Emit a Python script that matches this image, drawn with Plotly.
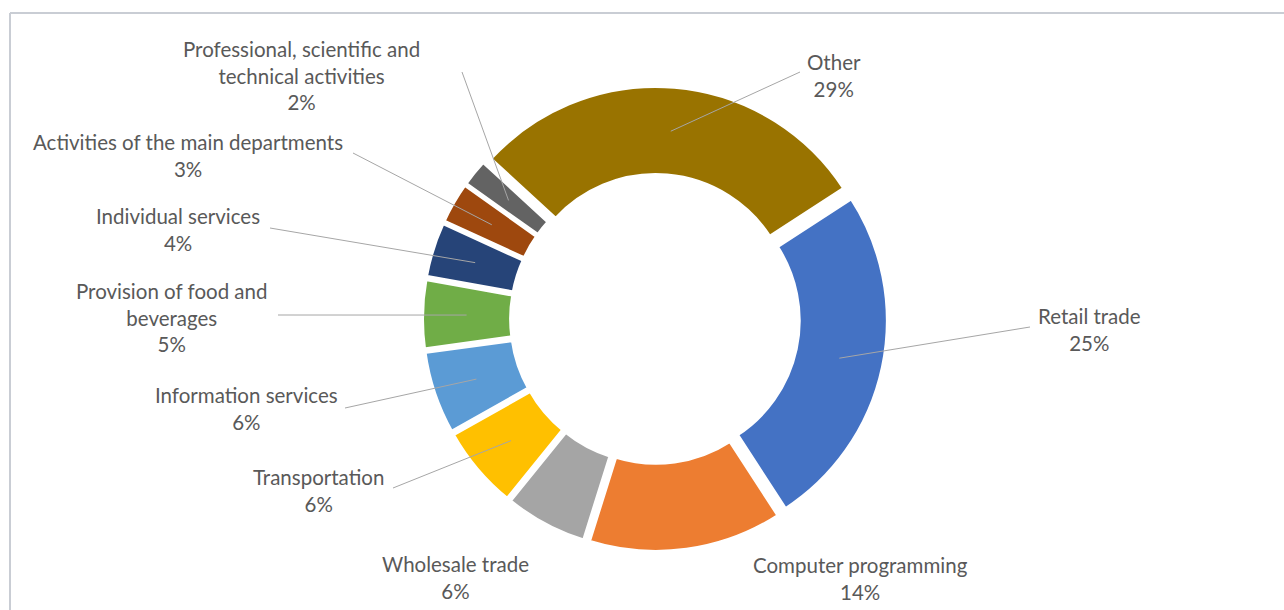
import math
import plotly.graph_objects as go

# Sector shares (%), listed clockwise starting from the upper-right gap
sectors = [
    "Retail trade",
    "Computer programming",
    "Wholesale trade",
    "Transportation",
    "Information services",
    "Provision of food and beverages",
    "Individual services",
    "Activities of the main departments",
    "Professional, scientific and technical activities",
    "Other",
]
shares = [25, 14, 6, 6, 6, 5, 4, 3, 2, 29]

# Label text as wrapped on the chart
label_text = [
    "Retail trade",
    "Computer programming",
    "Wholesale trade",
    "Transportation",
    "Information services",
    "Provision of food and<br>beverages",
    "Individual services",
    "Activities of the main departments",
    "Professional, scientific and<br>technical activities",
    "Other",
]

colors = ["#4472C4", "#ED7D31", "#A5A5A5", "#FFC000", "#5B9BD5",
          "#70AD47", "#264478", "#9E480E", "#636363", "#997300"]

# Layout geometry (pixels)
W, H = 1284, 610
CX, CY = 655, 319          # ring centre
HALF = 233                 # half-size of the pie box (includes pull)
PULL = 0.0356
HOLE = 0.604
START = 57                 # first slice starts this many degrees clockwise from 12 o'clock

# Label block centres and leader-line start points (pixels)
label_pos = [(1089, 329), (860, 578), (455, 577), (318, 490), (246, 408),
             (172, 317), (178, 229), (188, 156), (301, 75), (834, 75)]
leader_from = [(1030, 327), None, None, (393, 488), (345, 408),
               (278, 315), (270, 228), (353, 153), (462, 72), (800, 72)]


def px(x):
    return x / W


def py(y):
    return 1 - y / H


fig = go.Figure(go.Pie(
    labels=sectors,
    values=shares,
    sort=False,
    direction="clockwise",
    rotation=START,
    hole=HOLE,
    pull=[PULL] * len(shares),
    marker=dict(colors=colors, line=dict(color="white", width=4)),
    textinfo="none",
    hoverinfo="label+percent",
    showlegend=False,
    domain=dict(x=[px(CX - HALF), px(CX + HALF)],
                y=[py(CY + HALF), py(CY - HALF)]),
))

# Leader lines from each label to the middle of its ring segment
R = HALF / (1 + PULL)
r_mid = R * (1 + HOLE) / 2 + R * PULL
total = sum(shares)
shapes = []
acc = 0.0
for i, v in enumerate(shares):
    mid = math.radians(START + (acc + v / 2) / total * 360)
    acc += v
    if leader_from[i] is None:
        continue
    ex = CX + r_mid * math.sin(mid)
    ey = CY - r_mid * math.cos(mid)
    sx, sy = leader_from[i]
    shapes.append(dict(type="line", xref="paper", yref="paper",
                       x0=px(sx), y0=py(sy), x1=px(ex), y1=py(ey),
                       line=dict(color="#A6A6A6", width=1)))

# Chart frame (top and left edges)
shapes.append(dict(type="line", xref="paper", yref="paper",
                   x0=px(10), y0=py(13), x1=1.0, y1=py(13),
                   line=dict(color="#C9CDD4", width=2)))
shapes.append(dict(type="line", xref="paper", yref="paper",
                   x0=px(10), y0=py(13), x1=px(10), y1=0.0,
                   line=dict(color="#C9CDD4", width=2)))

annotations = []
for txt, v, (lx, ly) in zip(label_text, shares, label_pos):
    annotations.append(dict(
        x=px(lx), y=py(ly), xref="paper", yref="paper",
        text=f"{txt}<br>{v}%", showarrow=False, align="center",
        xanchor="center", yanchor="middle",
        font=dict(family="Lato, Carlito, sans-serif", size=20.5, color="#595959"),
    ))

fig.update_layout(
    width=W, height=H,
    margin=dict(l=0, r=0, t=0, b=0),
    paper_bgcolor="white",
    plot_bgcolor="white",
    shapes=shapes,
    annotations=annotations,
)

fig.write_html("out.html")
